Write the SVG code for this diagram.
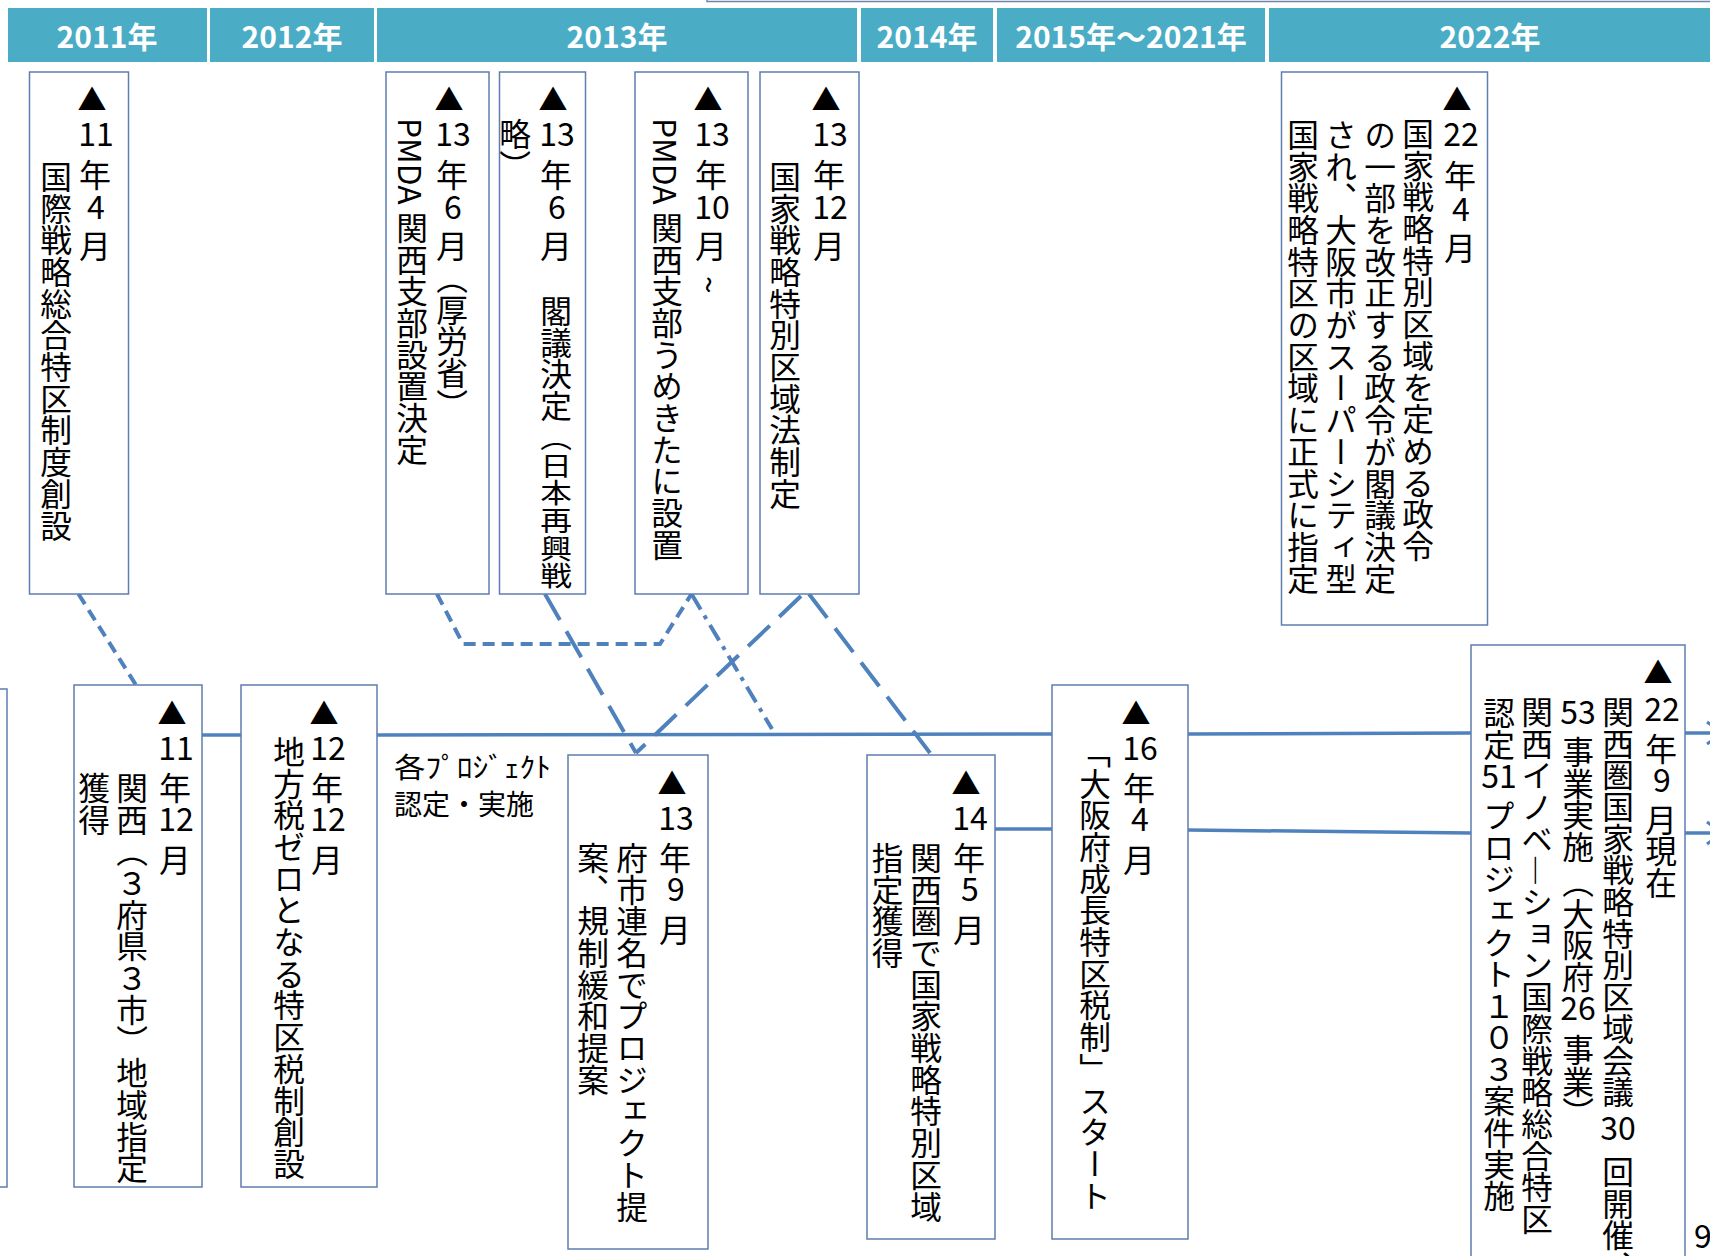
<svg xmlns="http://www.w3.org/2000/svg" width="1710" height="1256" viewBox="0 0 1710 1256">
<style>
.bg{fill:#ffffff}
.box{fill:#ffffff;stroke:#5E7DB0;stroke-width:1.5}
.hd{fill:#4BACC6}
.ht{fill:#ffffff;font-family:"Noto Sans CJK JP","Noto Sans",sans-serif;font-weight:bold;font-size:30px;text-anchor:middle}
.v{font-family:"Noto Sans CJK JP",sans-serif;font-size:31.7px;writing-mode:vertical-rl;fill:#000000}
.h{font-family:"Noto Sans CJK JP",sans-serif;font-size:32px;text-anchor:middle;fill:#000000}
.tri{font-family:"Noto Sans CJK JP",sans-serif;font-size:29px;text-anchor:middle;fill:#000000}
.lb{font-family:"Noto Sans CJK JP",sans-serif;font-size:28px;fill:#000000}
.tl{fill:none;stroke:#4F81BD;stroke-width:3.5}
.d1{fill:none;stroke:#4F81BD;stroke-width:4;stroke-dasharray:12 7}
.d2{fill:none;stroke:#4F81BD;stroke-width:4;stroke-dasharray:30 13}
.d3{fill:none;stroke:#4F81BD;stroke-width:4;stroke-dasharray:18 7 4 7}
</style>
<rect class="bg" x="0" y="0" width="1710" height="1256"/>

<g id="topframe"><rect x="707" y="-30" width="1020" height="31.5" fill="#ffffff" stroke="#6F86A8" stroke-width="1.5"/></g>

<g id="header">
<rect class="hd" x="8" y="8" width="199" height="54"/>
<rect class="hd" x="210" y="8" width="164" height="54"/>
<rect class="hd" x="377" y="8" width="480" height="54"/>
<rect class="hd" x="861" y="8" width="132" height="54"/>
<rect class="hd" x="997" y="8" width="268" height="54"/>
<rect class="hd" x="1269" y="8" width="445" height="54"/>
<text class="ht" x="107" y="48">2011年</text>
<text class="ht" x="292" y="48">2012年</text>
<text class="ht" x="617" y="48">2013年</text>
<text class="ht" x="927" y="48">2014年</text>
<text class="ht" x="1131" y="48">2015年～2021年</text>
<text class="ht" x="1490" y="48">2022年</text>
</g>

<g id="connectors">
<path class="tl" d="M202 735 L241 735"/>
<path class="tl" d="M377 735 L1052 734"/>
<path class="tl" d="M1188 734 L1471 733"/>
<path class="tl" d="M1685 733 L1712 733"/>
<path class="tl" d="M995 829 L1052 829"/>
<path class="tl" d="M1188 830 L1471 833"/>
<path class="tl" d="M1685 833 L1712 833"/>
<polyline points="1707,722 1722,733 1707,744" fill="none" stroke="#4F81BD" stroke-width="3"/>
<polyline points="1707,822 1722,833 1707,844" fill="none" stroke="#4F81BD" stroke-width="3"/>
<path class="d1" d="M78.5 594 L136 685"/>
<path class="d1" d="M437 594 L463 644 L660 644 L691.5 594"/>
<path class="d2" d="M545 594 L636 753"/>
<path class="d3" d="M691.5 594 L772 729"/>
<path class="d2" d="M801 596 L636 753"/>
<path class="d2" d="M809 594 L930 753"/>
</g>

<g id="leftbox"><rect class="box" x="-100" y="689" width="107" height="498"/></g>

<g id="n2011-04">
<rect class="box" x="29.5" y="72" width="99" height="522"/>
<text class="tri" x="92" y="111">▲</text>
<text class="h" x="96" y="146">11</text>
<text class="h" x="95" y="187">年</text>
<text class="h" x="96" y="219">4</text>
<text class="h" x="95" y="258">月</text>
<text class="v" x="56" y="161">国際戦略総合特区制度創設</text>
</g>

<g id="n2013-06a">
<rect class="box" x="386" y="72" width="103" height="522"/>
<text class="tri" x="449" y="111">▲</text>
<text class="h" x="453" y="146">13</text>
<text class="h" x="452" y="187">年</text>
<text class="h" x="453" y="219">6</text>
<text class="h" x="452" y="258">月</text>
<text class="v" x="452" y="262">（厚労省）</text>
<text class="v" x="412" y="118">PMDA</text>
<text class="v" x="412" y="212">関西支部設置決定</text>
</g>

<g id="n2013-06b">
<rect class="box" x="499.5" y="72" width="86" height="522"/>
<text class="tri" x="553" y="111">▲</text>
<text class="h" x="557" y="146">13</text>
<text class="h" x="556" y="187">年</text>
<text class="h" x="557" y="219">6</text>
<text class="h" x="556" y="258">月</text>
<text class="v" x="556" y="295">閣議決定</text>
<text class="v" transform="translate(556 424) scale(1 0.87)" x="0" y="0">（日本再興戦</text>
<text class="v" x="515" y="118">略）</text>
</g>

<g id="n2013-10">
<rect class="box" x="635" y="72" width="113" height="522"/>
<text class="tri" x="708" y="111">▲</text>
<text class="h" x="712" y="146">13</text>
<text class="h" x="711" y="187">年</text>
<text class="h" x="712" y="219">10</text>
<text class="h" x="711" y="258">月</text>
<text class="v" x="711" y="276">~</text>
<text class="v" x="667" y="118">PMDA</text>
<text class="v" x="667" y="212">関西支部うめきたに設置</text>
</g>

<g id="n2013-12">
<rect class="box" x="760" y="72" width="99" height="522"/>
<text class="tri" x="826" y="111">▲</text>
<text class="h" x="830" y="146">13</text>
<text class="h" x="829" y="187">年</text>
<text class="h" x="830" y="219">12</text>
<text class="h" x="829" y="258">月</text>
<text class="v" x="785" y="161">国家戦略特別区域法制定</text>
</g>

<g id="n2022-04">
<rect class="box" x="1281.5" y="72" width="206" height="553"/>
<text class="tri" x="1457" y="111">▲</text>
<text class="h" x="1461" y="146">22</text>
<text class="h" x="1460" y="188">年</text>
<text class="h" x="1461" y="221">4</text>
<text class="h" x="1460" y="260">月</text>
<text class="v" x="1418" y="118">国家戦略特別区域を定める政令</text>
<text class="v" x="1380" y="119">の一部を改正する政令が閣議決定</text>
<text class="v" x="1341" y="119">され、大阪市がスーパーシティ型</text>
<text class="v" x="1303" y="119">国家戦略特区の区域に正式に指定</text>
</g>

<g id="n2011-12">
<rect class="box" x="74" y="685" width="128" height="502"/>
<text class="tri" x="172" y="725">▲</text>
<text class="h" x="176" y="760">11</text>
<text class="h" x="175" y="800">年</text>
<text class="h" x="176" y="831">12</text>
<text class="h" x="175" y="872">月</text>
<text class="v" x="132" y="772">関西（３府県３市）地域指定</text>
<text class="v" x="94" y="772">獲得</text>
</g>

<g id="n2012-12">
<rect class="box" x="241" y="685" width="136" height="502"/>
<text class="tri" x="324" y="725">▲</text>
<text class="h" x="328" y="760">12</text>
<text class="h" x="327" y="800">年</text>
<text class="h" x="328" y="831">12</text>
<text class="h" x="327" y="872">月</text>
<text class="v" x="289" y="736">地方税ゼロとなる特区税制創設</text>
</g>

<g id="label-project">
<text class="lb" x="394" y="778" textLength="157" lengthAdjust="spacingAndGlyphs">各ﾌﾟﾛｼﾞｪｸﾄ</text>
<text class="lb" x="394" y="815">認定・実施</text>
</g>

<g id="n2013-09">
<rect class="box" x="568" y="755" width="140" height="494"/>
<text class="tri" x="672" y="795">▲</text>
<text class="h" x="676" y="830">13</text>
<text class="h" x="675" y="870">年</text>
<text class="h" x="676" y="901">9</text>
<text class="h" x="675" y="942">月</text>
<text class="v" x="632" y="842">府市連名でプロジェクト提</text>
<text class="v" x="593" y="842">案、規制緩和提案</text>
</g>

<g id="n2014-05">
<rect class="box" x="867" y="755" width="128" height="484"/>
<text class="tri" x="966" y="795">▲</text>
<text class="h" x="970" y="830">14</text>
<text class="h" x="969" y="870">年</text>
<text class="h" x="970" y="901">5</text>
<text class="h" x="969" y="942">月</text>
<text class="v" x="926" y="842">関西圏で国家戦略特別区域</text>
<text class="v" x="887.5" y="842">指定獲得</text>
</g>

<g id="n2016-04">
<rect class="box" x="1052" y="685" width="136" height="554"/>
<text class="tri" x="1136" y="725">▲</text>
<text class="h" x="1140" y="760">16</text>
<text class="h" x="1139" y="800">年</text>
<text class="h" x="1140" y="831">4</text>
<text class="h" x="1139" y="872">月</text>
<text class="v" x="1095" y="736">「大阪府成長特区税制」スタート</text>
</g>

<g id="n2022-09">
<rect class="box" x="1471" y="645" width="214" height="640"/>
<text class="tri" x="1658" y="684">▲</text>
<text class="h" x="1662" y="721">22</text>
<text class="h" x="1661" y="761">年</text>
<text class="h" x="1662" y="792">9</text>
<text class="h" x="1661" y="832">月</text>
<text class="v" x="1661" y="835">現在</text>
<text class="v" x="1618" y="696">関西圏国家戦略特別区域会議</text>
<text class="h" x="1618" y="1140">30</text>
<text class="v" x="1618" y="1156">回開催、</text>
<text class="h" x="1578" y="724">53</text>
<text class="v" x="1578" y="736">事業実施</text>
<text class="v" x="1578" y="866">（大阪府</text>
<text class="h" x="1578" y="1020">26</text>
<text class="v" x="1578" y="1034">事業）</text>
<text class="v" x="1537" y="696">関西イノベ―ション国際戦略総合特区</text>
<text class="v" x="1499" y="697">認定</text>
<text class="h" x="1499" y="788">51</text>
<text class="v" x="1499" y="800">プロジェクト１０３案件実施</text>
</g>

<g id="edge-text"><text class="h" x="1703" y="1248">9</text></g>
</svg>
